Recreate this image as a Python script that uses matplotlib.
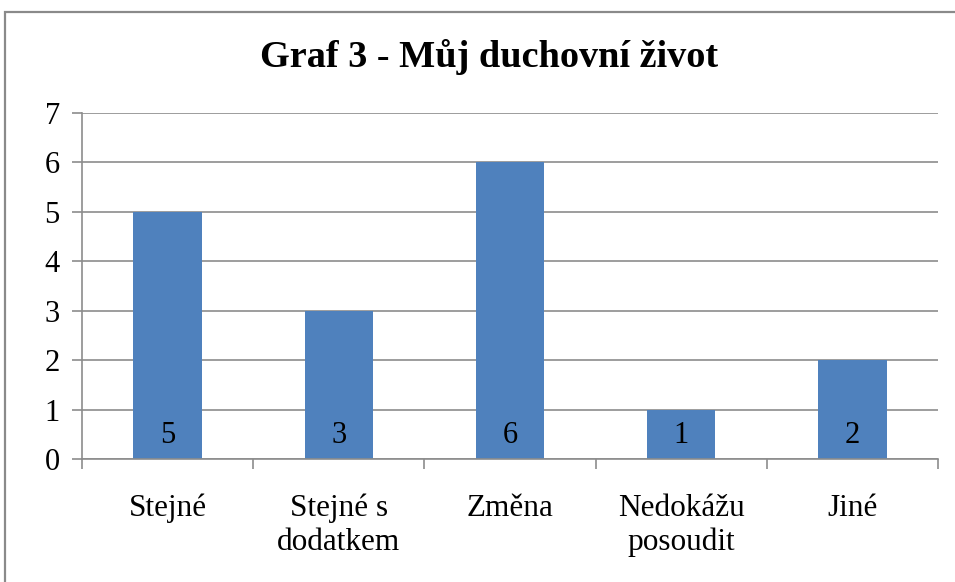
import matplotlib
matplotlib.use("Agg")
import matplotlib.pyplot as plt
from matplotlib.patches import Rectangle

plt.rcParams['font.family'] = ['Liberation Serif', 'DejaVu Serif']

categories = ["Stejné", "Stejné s\ndodatkem", "Změna", "Nedokážu\nposoudit", "Jiné"]
values = [5, 3, 6, 1, 2]
title = "Graf 3 - Můj duchovní život"

bar_color = "#4F81BD"
grid_color = "#8C8C8C"

fig = plt.figure(figsize=(9.55, 5.82), dpi=100)
ax = fig.add_axes([82 / 955, 1 - 459 / 582, (938 - 82) / 955, (459 - 113) / 582])

x = list(range(len(categories)))
ax.bar(x, values, width=0.4, color=bar_color, zorder=2)

for xi, v in zip(x, values):
    ax.annotate(str(v), (xi, 0), xytext=(0, 11.5), textcoords="offset points",
                ha="center", va="baseline", fontsize=22, color="black", zorder=3)

ax.set_xlim(-0.5, len(categories) - 0.5)
ax.set_ylim(0, 7)
ax.set_yticks(range(0, 8))
ax.yaxis.grid(True, color=grid_color, linewidth=1.2, zorder=0)
ax.set_axisbelow(True)

ax.set_xticks(x)
ax.set_xticklabels(categories, fontsize=22.5, linespacing=1.2)
ax.set_xticks([i - 0.5 for i in range(len(categories) + 1)], minor=True)
ax.tick_params(axis="x", which="major", length=0, pad=25)
ax.tick_params(axis="x", which="minor", length=7, width=1.2, color=grid_color, direction="out")
ax.tick_params(axis="y", length=7, width=1.2, color=grid_color, labelsize=22, pad=9)

for side in ["top", "right"]:
    ax.spines[side].set_visible(False)
for side in ["left", "bottom"]:
    ax.spines[side].set_color(grid_color)
    ax.spines[side].set_linewidth(1.2)

fig.text(489.5 / 955, 1 - 57 / 582, title, ha="center", va="center",
         fontsize=27.5, fontweight="bold")

# chart frame, cut off at the right and bottom like the reference
fig.patches.append(Rectangle((5 / 955, -1), 2, 2 - 12 / 582,
                             transform=fig.transFigure, fill=False,
                             edgecolor="#8A8A8A", linewidth=1.6))

fig.savefig("out.png", dpi=100)
